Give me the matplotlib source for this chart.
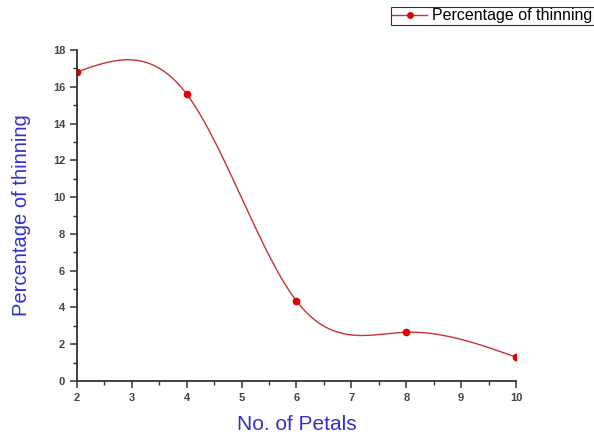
"""Percentage of thinning vs number of petals"""
import numpy as np
import matplotlib
matplotlib.use('Agg')
from matplotlib import pyplot as plt
from matplotlib.ticker import MultipleLocator

petals = [2, 4, 6, 8, 10]
thinning = [16.8, 15.6, 4.35, 2.65, 1.3]


def natural_spline(x, y, xs):
    """Natural cubic spline through (x, y) evaluated at xs"""
    x = np.asarray(x, float)
    y = np.asarray(y, float)
    n = len(x)
    h = np.diff(x)
    A = np.zeros((n, n))
    b = np.zeros(n)
    A[0, 0] = A[-1, -1] = 1
    for i in range(1, n - 1):
        A[i, i - 1] = h[i - 1]
        A[i, i] = 2 * (h[i - 1] + h[i])
        A[i, i + 1] = h[i]
        b[i] = 3 * ((y[i + 1] - y[i]) / h[i] - (y[i] - y[i - 1]) / h[i - 1])
    c = np.linalg.solve(A, b)
    out = np.empty_like(xs)
    for k, xv in enumerate(xs):
        i = min(np.searchsorted(x, xv, side='right') - 1, n - 2)
        i = max(i, 0)
        dx = xv - x[i]
        bi = (y[i + 1] - y[i]) / h[i] - h[i] * (2 * c[i] + c[i + 1]) / 3
        di = (c[i + 1] - c[i]) / (3 * h[i])
        out[k] = y[i] + bi * dx + c[i] * dx ** 2 + di * dx ** 3
    return out


plt.rcParams['font.family'] = ['Liberation Sans', 'DejaVu Sans']
fig = plt.figure(figsize=(5.94, 4.34), dpi=100)
ax = fig.add_axes([0.1296, 0.1221, 0.7391, 0.7627])

xs = np.linspace(petals[0], petals[-1], 300)
ax.plot(xs, natural_spline(petals, thinning, xs), color='#c83232', lw=1.0)
ax.plot(petals, thinning, 'o', color='#e00000', ms=4.5)
# legend proxy
ax.plot([], [], '-o', color='#c83232', mfc='#e00000', mec='#e00000', ms=4,
        lw=1.0, label='Percentage of thinning')

ax.set_xlim(2, 10)
ax.set_ylim(0, 18)
ax.xaxis.set_major_locator(MultipleLocator(1))
ax.xaxis.set_minor_locator(MultipleLocator(0.5))
ax.yaxis.set_major_locator(MultipleLocator(2))
ax.yaxis.set_minor_locator(MultipleLocator(1))
for s in ['top', 'right']:
    ax.spines[s].set_visible(False)
for s in ['left', 'bottom']:
    ax.spines[s].set_linewidth(1.3)
    ax.spines[s].set_color('#333333')
ax.tick_params(which='major', direction='out', length=5, width=1.1,
               labelsize=8, colors='#333333')
ax.tick_params(which='minor', direction='out', length=3, width=1.0,
               colors='#333333')
for lbl in ax.get_xticklabels() + ax.get_yticklabels():
    lbl.set_fontweight('bold')
    lbl.set_color('#444444')

ax.set_xlabel('No. of Petals', fontsize=15, color='#3030cc', labelpad=9)
ax.set_ylabel('Percentage of thinning', fontsize=14.5, color='#3030cc',
              labelpad=16)

leg = fig.legend(loc='upper right', bbox_to_anchor=(1.0, 0.985),
                 fontsize=11.5, frameon=True, fancybox=False,
                 handlelength=2.2, borderpad=0.1, handletextpad=0.3,
                 borderaxespad=0)
leg.get_frame().set_edgecolor('black')
leg.get_frame().set_linewidth(0.8)

fig.savefig('out.png', dpi=100)
